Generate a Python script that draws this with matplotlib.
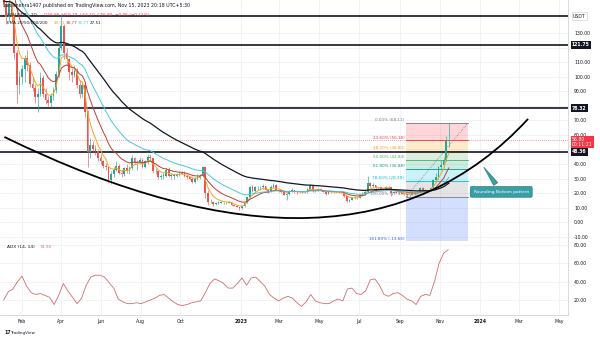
import numpy as np
import pandas as pd
import matplotlib
matplotlib.use('Agg')
import matplotlib.pyplot as plt
import matplotlib.dates as mdates
from matplotlib.path import Path
from matplotlib.patches import PathPatch, Rectangle

# SOL/USDT, 4-day candles starting 2022-01-04 (opens = previous close)
candle_start = '2022-01-04'
first_open = 170.0
closes = [
    150, 141, 150, 141, 116, 94, 100, 105, 113, 108,
    95, 92, 86, 88, 99, 88, 84, 82, 87, 91,
    102, 120, 135, 116, 112, 103, 101, 104, 94, 88,
    94, 76, 48, 53, 50, 49, 44, 42, 39, 38,
    29, 33, 36, 39, 34, 33, 37, 35, 37, 44,
    41, 41, 43, 38, 42, 45, 44, 35, 35, 31,
    32, 32, 36, 32, 32, 32, 33, 33, 34, 32,
    31, 30, 28, 30, 31, 32, 38, 20, 14, 14,
    12.5, 13.5, 13.5, 13.5, 13.2, 13.5, 14, 12, 11.5, 10.5,
    9.8,
    11, 13.5, 17.5, 24, 21.5, 24, 24, 24, 25, 22.5,
    21, 24, 25.5, 22.5, 22, 21, 19, 19.5, 21.5, 22,
    21, 20.5, 21, 21, 20.5, 23, 25, 21.5, 22, 23,
    22, 21, 19.5, 21, 20.5, 20.5, 20.5, 20.8, 20.5, 18,
    14.8, 15, 16.5, 17, 16.5, 19, 19.5, 21, 27, 25,
    25.5, 24, 24, 23, 23, 24.5, 24, 20, 21, 20,
    20, 19.5, 19.5, 18.5, 19, 20, 19.5, 20, 23.5, 22.5,
    21.5, 21.5, 23.8, 29, 31, 38, 39.5, 43, 56, 56.8,
]
highs = [
    172, 152, 155, 152, 143, 118, 104, 108, 115, 118,
    110, 100, 95, 92, 103, 101, 92, 87, 89, 93,
    104, 123, 143, 136, 120, 113, 106, 108, 106, 98,
    97, 96, 77, 58, 56, 53, 50, 47, 43, 41,
    38, 35, 38, 42, 40, 36, 38, 40, 39, 46,
    45, 43, 45, 44, 43, 47, 47, 44, 37, 36,
    33, 34, 37, 38, 34, 33, 34, 35, 35, 35,
    33, 32, 31, 31, 33, 33, 39, 38, 22, 16,
    14.5, 14, 14.5, 14.5, 14, 14, 14.8, 14, 12.2, 12,
    10.5,
    11.5, 14, 18, 25, 25.5, 25, 25, 25, 26, 25,
    23, 25.5, 27, 26, 23, 22.5, 21.5, 20.5, 22.5, 23.5,
    22.5, 21.5, 21.8, 21.8, 21.5, 23.5, 26, 25, 22.8, 23.5,
    23.5, 22.5, 21.2, 21.5, 21.2, 21, 21, 21.5, 21, 20.5,
    18, 16, 17, 17.8, 17.5, 19.5, 20.5, 22, 32, 28,
    27, 25.5, 24.5, 24, 23.5, 25, 25, 24, 21.5, 21.5,
    22.5, 20.3, 20, 19.5, 19.5, 20.5, 20, 21, 24.2, 24,
    23, 22, 24.5, 30, 34, 39, 43, 45, 59, 68.1,
]
lows = [
    148, 136, 138, 138, 112, 82, 88, 95, 96, 104,
    93, 90, 82, 76, 87, 86, 81, 80, 79, 84,
    89, 100, 118, 112, 108, 98, 96, 100, 92, 85,
    86, 72, 38, 44, 48, 46, 42, 40, 37, 36,
    27, 26, 31, 35, 33, 31, 32, 34, 33, 36,
    40, 36, 40, 37, 37, 40, 42, 34, 33, 30,
    30, 30, 31, 31, 30, 30, 31, 32, 33, 31,
    30, 29, 27, 27, 29, 30, 31, 17, 12, 13,
    11.5, 12, 12.5, 13, 12.8, 12.8, 13, 11.5, 11, 10.2,
    8.3,
    9.5, 10.8, 13.2, 17, 20.5, 21, 22, 22.5, 23, 22,
    20, 20.5, 23.5, 22, 21, 20, 18.5, 15.5, 19, 20.5,
    20, 19.5, 20, 20.3, 20, 20.3, 22.5, 21, 20.8, 21.5,
    21.5, 20.5, 19, 19.5, 20, 19.8, 19.8, 20, 19.8, 17.2,
    14, 14.2, 15, 16.2, 16, 16.5, 19, 19, 21, 24,
    24.5, 23, 23, 22.5, 22.3, 22.8, 23.5, 18, 19.8, 19.8,
    19.5, 19.2, 18.8, 17.6, 18.2, 18.8, 19, 19.2, 19.8, 22,
    21, 20.8, 21.2, 23.5, 29, 30, 36, 38, 42, 52,
]

# ADX (14, 14), weekly readings from 2022-01-04
adx_start = '2022-01-04'
adx_values = [
    20, 29, 32, 40, 46, 35, 28, 26, 27, 25,
    23, 15, 25, 38, 30, 23, 16, 22, 36, 45,
    47, 47, 45, 39, 33, 21, 18, 16, 16, 17,
    16, 18, 20, 22, 25, 26, 22, 18, 15, 14,
    15, 17, 18, 19, 28, 38, 43, 41, 38, 33,
    33, 38, 44, 36, 44, 45, 40, 35, 26, 22,
    19, 22, 24, 22, 17, 13, 18, 26, 19, 17,
    16, 16, 19, 21, 19, 32, 33, 27, 26, 30,
    42, 43, 36, 26, 24, 27, 28, 25, 21, 19,
    15, 24, 26, 25, 40, 60, 71, 74.92,
]

ema_periods = [20, 50, 100, 200]
ema_seeds = [170, 180, 175, 152]
ema_colors = ['#f5a524', '#b9403c', '#4fc6d8', '#131722']
ema_last = ['49.31', '38.77', '31.77', '27.51']

h_levels = [141.7, 121.75, 78.32, 48.36]
h_labels = [None, '121.75', '78.32', '48.36']
last_price = 56.80

fib_high = 68.11
fib_low = 17.57
fib_ratios = [0, 0.236, 0.382, 0.5, 0.618, 0.786, 1.0, 1.618]
fib_colors = ['#787b86', '#f23645', '#ff9800', '#4caf50', '#089981', '#00bcd4', '#787b86', '#2962ff']
fib_start, fib_end = '2023-09-11', '2023-12-14'

# rounding bottom arc (start, control, end)
arc_dates = ['2022-01-05', '2023-06-24', '2024-03-15']
arc_prices = [58.6, -58.7, 71.0]

month_ticks = ['2022-02-01', '2022-04-01', '2022-06-01', '2022-08-01', '2022-10-01', '2023-01-01',
               '2023-03-01', '2023-05-01', '2023-07-01', '2023-09-01', '2023-11-01', '2024-01-01',
               '2024-03-01', '2024-05-01']
month_labels = ['Feb', 'Apr', 'Jun', 'Aug', 'Oct', '2023', 'Mar', 'May', 'Jul', 'Sep', 'Nov', '2024', 'Mar', 'May']

TXT = '#131722'
GRID = '#eceef2'
FS = 3.3


def dnum(s):
    return mdates.date2num(pd.Timestamp(s).to_pydatetime())


def ema(values, period, seed):
    a = 1 - (1 - 2 / (period + 1)) ** 4  # candles are 4 days apart
    s = pd.Series([seed] + list(values), dtype=float)
    return s.ewm(alpha=a, adjust=False).mean().to_numpy()[1:]


W, H = 600, 340
def fx(px): return px / W
def fy(py): return 1 - py / H


fig = plt.figure(figsize=(6, 3.4), dpi=100)
ax = fig.add_axes([0, fy(241), fx(568), fy(0) - fy(241)])
ax2 = fig.add_axes([0, fy(315), fx(568), fy(241) - fy(315)], sharex=ax)

dates = mdates.date2num(pd.date_range(candle_start, periods=len(closes), freq='4D').to_pydatetime())
c = np.array(closes, dtype=float)
o = np.array([first_open] + closes[:-1], dtype=float)
hi = np.array(highs, dtype=float)
lo = np.array(lows, dtype=float)
up = c >= o
cols = np.where(up, '#26a69a', '#ef5350')

# grid
for t in month_ticks:
    ax.axvline(dnum(t), color=GRID, lw=0.5, zorder=0)
    ax2.axvline(dnum(t), color=GRID, lw=0.5, zorder=0)
for v in range(-10, 131, 10):
    ax.axhline(v, color=GRID, lw=0.5, zorder=0)
for v in range(20, 81, 20):
    ax2.axhline(v, color=GRID, lw=0.5, zorder=0)

# fibonacci retracement
fs, fe = dnum(fib_start), dnum(fib_end)
rng = fib_high - fib_low
fib_prices = [fib_high - r * rng for r in fib_ratios]
for i in range(len(fib_ratios) - 1):
    top, bot = fib_prices[i], fib_prices[i + 1]
    ax.add_patch(Rectangle((fs, bot), fe - fs, top - bot, fc=fib_colors[i + 1], alpha=0.2,
                           ec='none', zorder=1))
for r, p, col in zip(fib_ratios, fib_prices, fib_colors):
    ax.plot([fs, fe], [p, p], color=col, lw=0.6, zorder=1.5)
    ax.text(fs - 3, p + 0.6, f'{r * 100:.2f}% ({p:.2f})', ha='right', va='bottom',
            fontsize=3.0, color=col, zorder=6)
ax.plot([fs, fe], [fib_low, fib_high], ls=(0, (1, 1.5)), color='#787b86', lw=0.6, zorder=1.5)

# horizontal levels
for lv in h_levels:
    ax.axhline(lv, color='#131722', lw=1.2, zorder=2)
ax.axhline(last_price, color='#f23645', ls=(0, (1, 2)), lw=0.5, zorder=2)

# candles
ax.vlines(dates, lo, hi, colors=cols, lw=0.45, zorder=3)
ax.bar(dates, np.maximum(np.abs(c - o), 0.2), bottom=np.minimum(o, c), width=2.6,
       color=cols, lw=0, zorder=3)

# EMAs
for per, seed, col in zip(ema_periods, ema_seeds, ema_colors):
    ax.plot(dates, ema(closes, per, seed), color=col, lw=0.7 if per < 200 else 0.9, zorder=4)

# rounding bottom arc
verts = [(dnum(d), p) for d, p in zip(arc_dates, arc_prices)]
ax.add_patch(PathPatch(Path(verts, [Path.MOVETO, Path.CURVE3, Path.CURVE3]),
                       fc='none', ec='black', lw=1.3, zorder=5))

ax.annotate('Rounding Bottom pattern', xy=(dnum('2024-01-05'), 39.4),
            xytext=(dnum('2024-02-03'), 20.9), ha='center', va='center',
            fontsize=3.2, color='white', zorder=7,
            bbox=dict(boxstyle='round,pad=0.75,rounding_size=0.3', fc='#3a9ea6', ec='#2b7f86', lw=0.5),
            arrowprops=dict(arrowstyle='wedge,tail_width=1.1,shrink_factor=0.5',
                            fc='#3a9ea6', ec='#2b7f86', lw=0.5))

# ADX
adx_dates = mdates.date2num(pd.date_range(adx_start, periods=len(adx_values), freq='7D').to_pydatetime())
ax2.plot(adx_dates, adx_values, color='#cf6f6c', lw=0.6)

# axes styling
ax.set_xlim(dnum('2021-12-29 08:00'), dnum('2024-05-15'))
ax.set_ylim(-12.8, 152.6)
ax2.set_ylim(3.6, 84.4)

yt = np.arange(-10, 131, 10)
ax.set_yticks(yt)
ax.set_yticklabels(['' if v in (120, 80, 50) else f'{v:.2f}' for v in yt])
ax2.set_yticks([20, 40, 60, 80])
ax2.set_yticklabels(['20.00', '40.00', '60.00', '80.00'])
for a in (ax, ax2):
    a.yaxis.tick_right()
    a.tick_params(axis='y', length=0, pad=4.3, labelsize=FS, labelcolor=TXT)
    a.tick_params(axis='x', length=0)
    for s in ('top', 'left'):
        a.spines[s].set_visible(False)
    for s in ('right', 'bottom'):
        a.spines[s].set_color('#d1d4dc')
        a.spines[s].set_linewidth(0.6)
ax.tick_params(axis='x', labelbottom=False)
ax2.set_xticks([dnum(t) for t in month_ticks])
ax2.set_xticklabels(month_labels)
ax2.tick_params(axis='x', labelsize=FS, labelcolor=TXT, pad=3)
for lab in ax2.get_xticklabels():
    if lab.get_text() in ('2023', '2024'):
        lab.set_fontweight('bold')

# price-scale labels
ytr = ax.get_yaxis_transform()
for lv, lab in zip(h_levels, h_labels):
    if lab:
        ax.text(1.007, lv, lab, transform=ytr, ha='left', va='center', fontsize=FS,
                color='white', fontweight='bold', clip_on=False, zorder=10,
                bbox=dict(boxstyle='square,pad=0.3', fc='#131722', ec='none'))
ax.text(1.007, 55.2, f'{last_price:.2f}\n00:11:21', transform=ytr, ha='left', va='center',
        fontsize=FS, color='white', linespacing=1.0, clip_on=False, zorder=10,
        bbox=dict(boxstyle='square,pad=0.3', fc='#f23645', ec='none'))
ax.text(1.009, 141.5, 'USDT', transform=ytr, ha='left', va='center', fontsize=FS, color=TXT,
        clip_on=False, zorder=10,
        bbox=dict(boxstyle='square,pad=0.35', fc='white', ec='#d1d4dc', lw=0.5))

# header texts
fig.text(fx(3), fy(5), 'sahilmehra1407 published on TradingView.com, Nov 15, 2023 20:18 UTC+5:30',
         fontsize=3.4, color=TXT, va='center')
fig.text(fx(7), fy(15), 'SOLUSDT · 1D', fontsize=3.1, color=TXT, va='center')
fig.text(fx(44), fy(15), 'O56.86  H59.79  L54.10  C56.80  −0.06 (−0.11%)', fontsize=3.1,
         color='#f23645', va='center')
fig.text(fx(7), fy(23), 'EMA 20/50/100/200', fontsize=3.0, color=TXT, va='center')
for xp, val, col in zip([54, 66, 78, 90], ema_last, ema_colors):
    fig.text(fx(xp), fy(23), val, fontsize=3.0, color=col, va='center')
fig.text(fx(7), fy(247), 'ADX (14, 14)', fontsize=3.2, color=TXT, va='center')
fig.text(fx(40), fy(247), f'{adx_values[-1]:.2f}', fontsize=3.2, color='#cf6f6c', va='center')
fig.text(fx(4), fy(333), '17', fontsize=3.4, color=TXT, fontweight='bold', va='center')
fig.text(fx(10), fy(333), 'TradingView', fontsize=3.0, color=TXT, va='center')

fig.savefig('out.png', dpi=100)
